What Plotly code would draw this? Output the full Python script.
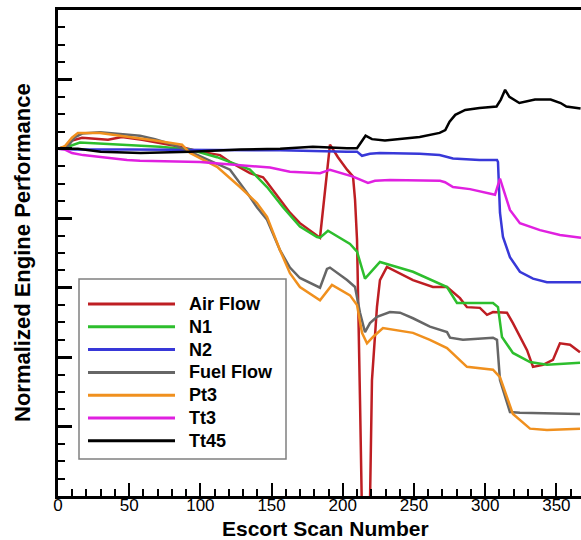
import plotly.graph_objects as go

# ---- data (scan number, normalized value) ----
af_x = [0,4.9,9.8,16.9,35.1,44.9,59,85.7,99.7,113.8,120.8,134.8,144,146.8,155.9,162.9,169.9,181.9,184,191,196.6,203,207.2,208.6,210,212.1,213.5,214.5,218,219.1,220.5,224,226.1,231,249.3,263.3,273.2,282.3,287.2,296.3,301.3,305.5,310.4,315.3,319.5,329.4,333.6,340.6,347.6,352.5,359.6,366.6]
af_y = [100,100.3,101.2,101.6,101.3,101.7,101.3,100.3,99.6,99.1,98.1,96.5,95.9,95.2,92.7,90.8,89.3,87.6,87.2,100.6,98.8,97.0,96.0,92.7,86.9,63.8,50,35,35,50,66.7,77.2,81.1,83.0,81.1,80.1,80.1,78.5,77.2,77.1,76.1,76.5,76.4,76.4,74.9,71.0,68.6,68.9,69.6,72.0,71.8,70.7]

n1_x = [0,7,15.4,48.5,71.6,92.7,111.7,134.8,146.8,158,169.9,181.9,184,189.6,205.1,210,215.6,226.1,249.3,273.2,280.2,305.5,309,311.8,319.5,331.5,343.4,366.6]
n1_y = [100,100.3,100.9,100.6,100.3,99.9,98.8,97.0,94.5,91.6,88.8,87.3,87.2,88.2,86.3,85.2,81.3,83.7,82.3,80.1,77.8,77.8,77.2,72.9,70.6,69.3,68.9,69.2]

n2_x = [0,12,50,93,156,203,210,213.5,219,226,254,268,275,277.4,296,308.3,309,310.4,312.5,317.4,324.4,333.6,343.4,367.3]
n2_y = [100,99.9,99.9,99.9,99.8,99.6,99.6,99.0,99.3,99.4,99.3,99.1,98.8,98.6,98.4,98.4,98.1,90.8,87.3,84.4,82.3,81.3,80.8,80.8]

ff_x = [0,7,12,17,29.5,43.5,57.6,68.1,80.8,92.7,108.8,120.8,132.7,139.7,146.8,155.9,162.9,169.9,184,188.9,191,203,208.6,212.1,215.6,219.1,224,233.1,240.2,249.3,261.2,273.2,275.3,284.4,305.5,308.3,310.4,317.4,324.4,366.6]
ff_y = [100,100.4,101.7,102.2,102.4,102.2,101.9,101.4,100.6,99.6,98.1,97.0,93.7,91.6,89.8,85.4,82.9,81.4,80.0,82.7,82.9,81.1,80.1,76.4,73.6,74.9,75.8,76.5,76.4,75.6,74.4,73.6,72.8,72.5,72.8,72.5,66.7,62.1,62.0,61.8]

pt3_x = [0,4.9,9.8,14,29.5,43.5,57.6,68.1,87.1,92.7,111.7,127.8,139.7,146.8,155.9,162.9,169.9,184,192.4,205.1,210,213.5,217,221.2,228.2,249.3,261.2,273.2,287.2,305.5,310.4,319.5,331.5,343.4,366.6]
pt3_y = [100,100.4,101.6,102.3,102.3,101.9,101.6,101.2,100.6,99.4,97.4,94.5,92.2,90.2,85.4,82.1,80.1,78.2,80.4,78.9,77.5,73.5,72.0,72.9,74.2,73.5,72.5,71.3,68.6,68.2,67.1,61.8,59.7,59.5,59.7]

tt3_x = [0,4.9,9.8,17.6,48.5,57.6,99.7,127.8,148.9,162.9,184,191,201.5,207.2,217.7,222.6,233.1,254.2,268.3,271.8,277.4,289.3,306.9,310.4,317.4,324.4,338.5,352.5,367.3]
tt3_y = [100,99.9,99.4,99.1,98.4,98.3,98.1,97.7,97.3,96.7,96.5,97.0,96.4,96.0,95.1,95.4,95.5,95.5,95.4,95.2,94.5,94.2,93.4,95.7,91.2,89.3,88.3,87.6,87.2]

tt45_x = [0,14,30,58,93,128,156,179,203,210,216,220.5,229.6,240,254,268,272,275,279,286,296,308,311,314,317,324,335,346,353,357,367]
tt45_y = [100,100,99.6,99.4,99.6,99.9,100,100.3,100.1,100.1,101.9,101.4,101.2,101.4,101.7,102.3,102.7,103.9,104.9,105.6,105.9,106.1,107.1,108.5,107.5,106.6,107.1,107.1,106.6,106.1,105.8]

series = [
    ("Air Flow", af_x, af_y, "#BE1E23"),
    ("N1", n1_x, n1_y, "#2DBE2D"),
    ("N2", n2_x, n2_y, "#3838D8"),
    ("Fuel Flow", ff_x, ff_y, "#666666"),
    ("Pt3", pt3_x, pt3_y, "#F0901E"),
    ("Tt3", tt3_x, tt3_y, "#E020E0"),
    ("Tt45", tt45_x, tt45_y, "#000000"),
]

FONT = "Liberation Sans, Arial, sans-serif"

# plot area in pixels (for placing the hand-made legend in paper coords)
PL, PR, PT, PB = 58, 581, 10, 496
def px_x(p): return (p - PL) / (PR - PL)
def px_y(p): return (PB - p) / (PB - PT)

fig = go.Figure()
for name, xs, ys, col in series:
    fig.add_trace(go.Scatter(x=xs, y=ys, mode="lines", name=name,
                             line=dict(color=col, width=2.5), showlegend=False))

shapes = [dict(type="rect", xref="paper", yref="paper",
               x0=px_x(79), x1=px_x(286), y0=px_y(459), y1=px_y(279),
               line=dict(color="#808080", width=1.5), fillcolor="white", layer="above")]
annotations = []
for i, (name, xs, ys, col) in enumerate(series):
    yc = 304 + 22.8 * i
    shapes.append(dict(type="line", xref="paper", yref="paper",
                       x0=px_x(88), x1=px_x(175), y0=px_y(yc), y1=px_y(yc),
                       line=dict(color=col, width=3), layer="above"))
    annotations.append(dict(text=name, xref="paper", yref="paper",
                            x=px_x(187), y=px_y(yc), xanchor="left", yanchor="middle",
                            showarrow=False,
                            font=dict(size=18, family=FONT, weight="bold", color="black")))

annotations += [
    dict(text="Escort Scan Number", xref="paper", yref="paper",
         x=px_x(325), y=px_y(541), xanchor="center", yanchor="bottom", showarrow=False,
         borderpad=0,
         font=dict(size=21, family=FONT, weight="bold")),
    dict(text="Normalized Engine Performance", xref="paper", yref="paper",
         x=px_x(22), y=px_y(253), xanchor="center", yanchor="middle", showarrow=False,
         textangle=-90, font=dict(size=22, family=FONT, weight="bold")),
]

fig.update_layout(
    width=581, height=540,
    margin=dict(l=58, r=0, t=10, b=44),
    plot_bgcolor="white", paper_bgcolor="white",
    font=dict(family=FONT, color="black"),
    showlegend=False,
    xaxis=dict(range=[0, 367.3], showgrid=False, zeroline=False,
               showline=True, linecolor="black", linewidth=3, mirror=True,
               ticks="inside", ticklen=13, tickwidth=2, tickcolor="black",
               dtick=50, tick0=0, tickfont=dict(size=17, family=FONT),
               ticklabelstandoff=-8,
               minor=dict(ticks="inside", ticklen=7, tickwidth=1.5, dtick=10, tickcolor="black")),
    yaxis=dict(range=[50, 120], showgrid=False, zeroline=False,
               showline=True, linecolor="black", linewidth=3,
               ticks="inside", ticklen=14, tickwidth=2.5, tickcolor="black",
               dtick=10, tick0=50, showticklabels=False,
               minor=dict(ticks="inside", ticklen=7, tickwidth=1.5, dtick=2.5, tickcolor="black")),
    shapes=shapes,
    annotations=annotations,
)

fig.write_html("out.html")
